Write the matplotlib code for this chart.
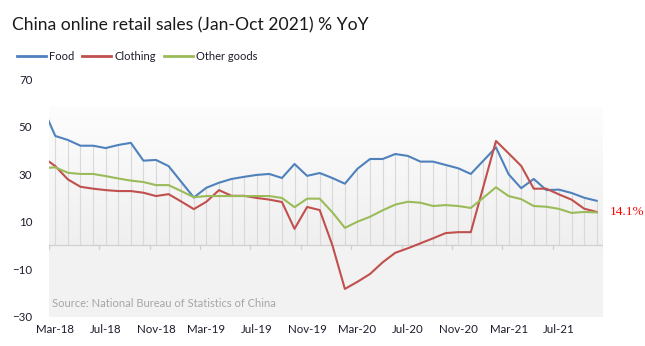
import numpy as np
import matplotlib
matplotlib.use("Agg")
import matplotlib.pyplot as plt
from matplotlib.lines import Line2D

plt.rcParams['font.family'] = ['Lato', 'DejaVu Sans']

# monthly categories, Mar-18 .. Oct-21 (first value is Feb-18, clipped at the left edge)
tick_labels = ["Mar-18", "Jul-18", "Nov-18", "Mar-19", "Jul-19", "Nov-19",
               "Mar-20", "Jul-20", "Nov-20", "Mar-21", "Jul-21"]

food = [58.1, 46.1, 44.4, 42.0, 42.0, 41.0, 42.3, 43.2, 35.7, 36.0, 33.4,
        26.8, 20.2, 24.3, 26.4, 28.0, 28.9, 29.7, 30.1, 28.4, 34.3, 29.3,
        30.5, 28.4, 26.0, 32.3, 36.4, 36.4, 38.5, 37.7, 35.3, 35.3, 33.9,
        32.5, 30.1, 35.7, 41.3, 30.0, 24.1, 28.0, 23.3, 23.5, 22.1, 20.1, 18.8]
clothing = [37.2, 33.4, 27.8, 24.7, 23.9, 23.3, 22.9, 22.9, 22.2, 20.8, 21.6,
            18.5, 15.3, 18.4, 23.3, 20.9, 20.9, 20.0, 19.3, 18.3, 7.0, 16.2,
            14.9, 0.2, -18.3, -15.3, -12.0, -7.1, -3.1, -1.2, 0.9, 3.0, 5.2,
            5.6, 5.6, 24.8, 44.0, 38.8, 33.5, 23.9, 23.9, 21.5, 19.3, 15.5, 14.1]
other = [32.5, 32.9, 30.6, 30.1, 30.1, 29.2, 28.2, 27.3, 26.7, 25.4, 25.4,
         22.9, 20.3, 20.8, 20.8, 20.8, 20.8, 20.8, 20.8, 20.0, 16.1, 19.7,
         19.7, 14.0, 7.4, 10.0, 12.1, 14.8, 17.2, 18.4, 18.0, 16.6, 17.0,
         16.6, 15.8, 20.1, 24.5, 20.8, 19.5, 16.6, 16.3, 15.4, 13.7, 14.1, 13.9]

C_FOOD = "#4f81bd"
C_CLOTH = "#c0504d"
C_OTHER = "#9bbb59"
TXT = "#1c1c2c"

fig = plt.figure(figsize=(6.45, 3.46), dpi=100)
ax = fig.add_axes([49 / 645, 29.3 / 346, 554 / 645, 237.5 / 346])

x = np.arange(len(food)) - 1
n = len(food) - 1
ax.set_xlim(-0.5, n - 0.5)
ax.set_ylim(-30, 70)

# background: flat grey below zero, soft gradient above
grad = np.linspace(0, 1, 256).reshape(-1, 1)
cmap = matplotlib.colors.LinearSegmentedColormap.from_list("bg", ["#efefef", "#fdfdfd"])
ax.imshow(grad, extent=[-0.5, n - 0.5, 0, 58], origin="lower", aspect="auto",
          cmap=cmap, zorder=0)
ax.axhspan(-30, 0, color="#f2f2f2", zorder=0, lw=0)

# drop lines from the highest series down to the axis
top = np.maximum.reduce([food, clothing, other])
ax.vlines(x[1:], 0, top[1:], color="#d9d9d9", lw=0.8, zorder=1)

ax.axhline(0, color="#d0d0d0", lw=0.9, zorder=1)
for b in np.arange(-0.5, n, 4):
    ax.plot([b, b], [0, -1.3], color="#d0d0d0", lw=0.9, zorder=1)

ax.plot(x, food, color=C_FOOD, lw=1.5, zorder=3)
ax.plot(x, clothing, color=C_CLOTH, lw=1.5, zorder=3)
ax.plot(x, other, color=C_OTHER, lw=1.5, zorder=3)

for s in ax.spines.values():
    s.set_visible(False)

ax.set_yticks([70, 50, 30, 10, -10, -30])
ax.tick_params(axis="y", length=0, pad=12, labelsize=8.3, labelcolor=TXT)
ax.set_xticks(np.arange(0, n, 4))
ax.set_xticklabels(tick_labels)
ax.tick_params(axis="x", length=0, pad=5, labelsize=8.3, labelcolor=TXT)

ax.text(0.006, 0.055, "Source: National Bureau of Statistics of China", transform=ax.transAxes,
        fontsize=8.0, color="#a6a6a6", va="center", ha="left")

ax.annotate(f"{clothing[-1]:.1f}%", xy=(x[-1], clothing[-1]), xytext=(13, 0),
            textcoords="offset pixels", color="#ff0000", fontsize=9.5,
            family="Liberation Serif", va="center", ha="left", annotation_clip=False)

fig.text(12 / 645, 1 - 25 / 346, "China online retail sales (Jan-Oct 2021) % YoY",
         fontsize=12.6, color="#1a1a1a", va="center", ha="left")

handles = [Line2D([], [], color=C_FOOD, lw=2),
           Line2D([], [], color=C_CLOTH, lw=2),
           Line2D([], [], color=C_OTHER, lw=2)]
fig.legend(handles, ["Food", "Clothing", "Other goods"], loc="center left",
           bbox_to_anchor=(17 / 645, 1 - 56 / 346), ncol=3, frameon=False,
           fontsize=8.0, handlelength=2.6, handletextpad=0.3, columnspacing=0.7,
           borderaxespad=0, borderpad=0, labelcolor=TXT)

fig.savefig("out.png", dpi=100, facecolor="white")
